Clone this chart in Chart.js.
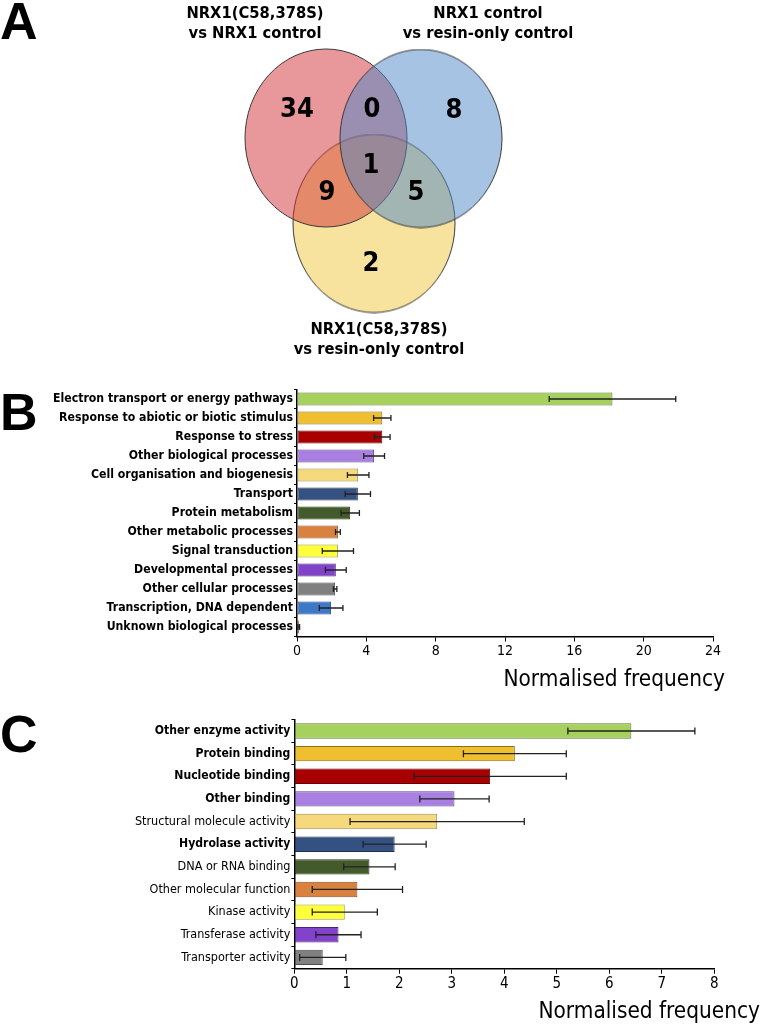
<!DOCTYPE html>
<html>
<head>
<meta charset="utf-8">
<script src="https://cdn.jsdelivr.net/npm/chart.js@4.4.0/dist/chart.umd.min.js"></script>
<style>
  body { margin: 0; background: #fff; width: 762px; height: 1025px; position: relative; overflow: hidden; }
  canvas { position: absolute; left: 0; }
  .panel { position: absolute; left: 0; font: bold 52px "Liberation Sans", Arial, sans-serif; line-height: 1; }
  .axtitle { position: absolute; font: 22.4px "Liberation Sans Narrow", "DejaVu Sans Condensed", "Liberation Sans", sans-serif; line-height: 1; white-space: nowrap; text-align: right; }
</style>
</head>
<body>
<div class="panel" style="top:-5px">A</div>
<div class="panel" style="top:386px">B</div>
<div class="panel" style="top:708px">C</div>

<canvas id="venn" width="762" height="380" style="top:0"></canvas>
<canvas id="procesos" width="730" height="290" style="top:380px"></canvas>
<canvas id="funciones" width="730" height="300" style="top:705px"></canvas>

<div class="axtitle" style="top:667px; right:37px">Normalised frequency</div>
<div class="axtitle" style="top:999px; right:2px">Normalised frequency</div>

<script>
//* Datos

// Venn: conjuntos y numero de proteinas por region
const vennSets = [
  ["NRX1(C58,378S)", "vs NRX1 control"],
  ["NRX1 control", "vs resin-only control"],
  ["NRX1(C58,378S)", "vs resin-only control"]
];
const vennRegions = ["1", "1+2", "2", "1+2+3", "1+3", "2+3", "3"];
const vennCounts = [34, 0, 8, 1, 9, 5, 2];

// B: procesos biologicos
const bioCategories = [
  "Electron transport or energy pathways", "Response to abiotic or biotic stimulus",
  "Response to stress", "Other biological processes", "Cell organisation and biogenesis",
  "Transport", "Protein metabolism", "Other metabolic processes", "Signal transduction",
  "Developmental processes", "Other cellular processes", "Transcription, DNA dependent",
  "Unknown biological processes"
];
const bioValues = [18.2, 4.92, 4.92, 4.45, 3.53, 3.51, 3.07, 2.36, 2.36, 2.24, 2.2, 1.97, 0.1];
const bioErrors = [3.65, 0.5, 0.45, 0.6, 0.62, 0.73, 0.53, 0.14, 0.9, 0.6, 0.1, 0.68, 0.05];
const bioTicks = [0, 4, 8, 12, 16, 20, 24];

// C: funcion molecular
const funcCategories = [
  "Other enzyme activity", "Protein binding", "Nucleotide binding", "Other binding",
  "Structural molecule activity", "Hydrolase activity", "DNA or RNA binding",
  "Other molecular function", "Kinase activity", "Transferase activity", "Transporter activity"
];
const funcValues = [6.42, 4.2, 3.73, 3.05, 2.72, 1.91, 1.43, 1.2, 0.96, 0.84, 0.54];
const funcErrors = [1.21, 0.98, 1.45, 0.66, 1.66, 0.6, 0.49, 0.86, 0.62, 0.43, 0.44];
const funcTicks = [0, 1, 2, 3, 4, 5, 6, 7, 8];

//!-----------------------------------------------------------------------------

//* Estilos

const NARROW = '"Liberation Sans Narrow", "DejaVu Sans Condensed", "Liberation Sans", sans-serif';

const barFill = ['#a6d15d', '#f0bf30', '#a80000', '#a97fe2', '#f5d97c', '#345182', '#435a2b',
                 '#d9813f', '#ffff3b', '#8043c9', '#808080', '#3d78c9', '#8b0f0f'];
const barEdge = ['#5d7a35', '#8c6e1c', '#6a0000', '#5e4685', '#a08c4e', '#1f3050', '#28361a',
                 '#8a4e24', '#a0a030', '#4a2676', '#4d4d4d', '#24487a', '#5a0000'];
const funcBold = [true, true, true, true, false, true, false, false, false, false, false];

const vennLayout = {
  centres: [{ x: 326, y: 138 }, { x: 421, y: 138.5 }, { x: 374, y: 223.5 }],
  size: { w: 162, h: 178 },
  fills: ['rgba(209,47,55,0.5)', 'rgba(77,135,199,0.5)', 'rgba(239,199,61,0.5)'],
  order: [2, 1, 3],
  titles: [{ x: 255, y: 14 }, { x: 488, y: 14 }, { x: 379, y: 330 }],
  regions: [{ x: 297, y: 110 }, { x: 372, y: 110 }, { x: 454, y: 111 }, { x: 371, y: 166 },
            { x: 327, y: 193 }, { x: 416, y: 193 }, { x: 371, y: 264 }]
};

// Dibuja una elipse en un canvas aparte para usarla como pointStyle
function ellipseImage(fill) {
  var w = vennLayout.size.w, h = vennLayout.size.h;
  var c = document.createElement('canvas');
  c.width = w + 2; c.height = h + 2;
  var g = c.getContext('2d');
  g.beginPath();
  g.ellipse(c.width / 2, c.height / 2, w / 2, h / 2, 0, 0, Math.PI * 2);
  g.fillStyle = fill;
  g.fill();
  g.lineWidth = 1;
  g.strokeStyle = '#3a3a3a';
  g.stroke();
  return c;
}

//!-----------------------------------------------------------------------------

//* Diagrama de Venn

const vennText = {
  id: 'vennText',
  afterDatasetsDraw(chart) {
    var ctx = chart.ctx;
    var xs = chart.scales.x, ys = chart.scales.y;
    ctx.save();
    ctx.fillStyle = '#000';
    ctx.textAlign = 'center';
    ctx.textBaseline = 'middle';
    // numeros en cada region
    ctx.font = 'bold 27px ' + NARROW;
    var meta = chart.getDatasetMeta(3);
    meta.data.forEach(function (pt, i) {
      ctx.fillText(String(vennCounts[i]), pt.x, pt.y);
    });
    // titulos de los conjuntos
    ctx.font = 'bold 16.4px ' + NARROW;
    vennSets.forEach(function (lines, i) {
      var p = vennLayout.titles[i];
      lines.forEach(function (line, k) {
        ctx.fillText(line, xs.getPixelForValue(p.x), ys.getPixelForValue(p.y) + k * 19.5);
      });
    });
    ctx.restore();
  }
};

new Chart(document.getElementById('venn'), {
  type: 'scatter',
  data: {
    datasets: vennSets.map(function (s, i) {
      return {
        label: s.join(' '),
        data: [vennLayout.centres[i]],
        pointStyle: ellipseImage(vennLayout.fills[i]),
        pointRadius: 80,
        order: vennLayout.order[i],
        clip: false
      };
    }).concat([{
      label: 'regiones',
      data: vennLayout.regions,
      pointRadius: 0,
      order: 0
    }])
  },
  options: {
    responsive: false,
    animation: false,
    layout: { padding: 0, autoPadding: false },
    plugins: { legend: { display: false }, tooltip: { enabled: false } },
    scales: {
      x: { display: false, min: 0, max: 762 },
      y: { display: false, min: 0, max: 380, reverse: true }
    }
  },
  plugins: [vennText]
});

//!-----------------------------------------------------------------------------

//* Graficos de barras con barras de error

const errorBars = {
  id: 'errorBars',
  afterDatasetsDraw(chart, args, opts) {
    var ctx = chart.ctx;
    var xs = chart.scales.x;
    var vals = chart.data.datasets[0].data;
    var meta = chart.getDatasetMeta(0);
    ctx.save();
    ctx.strokeStyle = '#222';
    ctx.lineWidth = 1.3;
    meta.data.forEach(function (bar, i) {
      var lo = xs.getPixelForValue(Math.max(0, vals[i] - opts.errors[i]));
      var hi = xs.getPixelForValue(vals[i] + opts.errors[i]);
      ctx.beginPath();
      ctx.moveTo(lo, bar.y); ctx.lineTo(hi, bar.y);
      ctx.moveTo(lo, bar.y - opts.cap); ctx.lineTo(lo, bar.y + opts.cap);
      ctx.moveTo(hi, bar.y - opts.cap); ctx.lineTo(hi, bar.y + opts.cap);
      ctx.stroke();
    });
    ctx.restore();
  }
};

function barChart(id, labels, values, errors, ticks, cfg) {
  return new Chart(document.getElementById(id), {
    type: 'bar',
    data: {
      labels: labels,
      datasets: [{
        data: values,
        backgroundColor: barFill.slice(0, values.length),
        borderColor: barEdge.slice(0, values.length),
        borderWidth: 1,
        borderSkipped: false,
        barPercentage: 0.68,
        categoryPercentage: 1
      }]
    },
    options: {
      indexAxis: 'y',
      responsive: false,
      animation: false,
      layout: { padding: { top: cfg.top, right: cfg.right, left: 0, bottom: 0 } },
      plugins: {
        legend: { display: false },
        tooltip: { enabled: false },
        errorBars: { errors: errors, cap: cfg.cap }
      },
      scales: {
        x: {
          min: ticks[0],
          max: ticks[ticks.length - 1],
          afterBuildTicks: function (s) { s.ticks = ticks.map(function (v) { return { value: v }; }); },
          afterFit: function (s) { s.height = cfg.xHeight; },
          border: { color: '#000', width: 1.5 },
          grid: { drawOnChartArea: false, drawTicks: true, tickLength: 5, color: '#000' },
          ticks: { color: '#000', padding: 1, maxRotation: 0, font: { family: NARROW, size: cfg.tickSize } }
        },
        y: {
          afterFit: function (s) { s.width = cfg.axisX; },
          border: { color: '#000', width: 1.5 },
          grid: { drawOnChartArea: false, drawTicks: true, tickLength: 3, color: '#000', offset: true },
          ticks: { color: '#000', padding: 1, autoSkip: false, font: cfg.labelFont }
        }
      }
    },
    plugins: [errorBars]
  });
}

document.addEventListener("DOMContentLoaded", function () {
  barChart('procesos', bioCategories, bioValues, bioErrors, bioTicks, {
    top: 9.5, right: 17, xHeight: 33.5, axisX: 297, cap: 3, tickSize: 14,
    labelFont: { family: NARROW, size: 12.2, weight: 'bold' }
  });

  barChart('funciones', funcCategories, funcValues, funcErrors, funcTicks, {
    top: 14.7, right: 15.7, xHeight: 36.3, axisX: 294.4, cap: 3.5, tickSize: 15,
    labelFont: function (ctx) {
      return funcBold[ctx.index]
        ? { family: NARROW, size: 12.1, weight: 'bold' }
        : { family: NARROW, size: 12.5, weight: 'normal' };
    }
  });
});
</script>
</body>
</html>
